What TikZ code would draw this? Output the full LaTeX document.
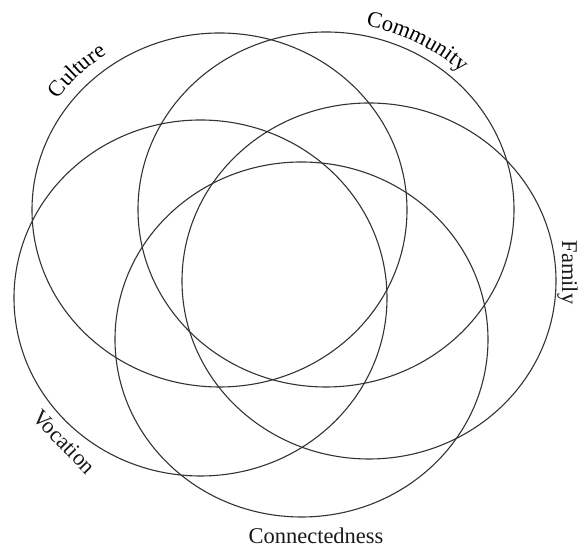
\documentclass[tikz,border=0pt]{standalone}
\usepackage{fontspec}
\setmainfont{Liberation Serif}
\usetikzlibrary{shapes.geometric,decorations.text,calc}
\newcommand\lblfont{\fontsize{22.5}{27}\selectfont}
\begin{document}
\begin{tikzpicture}[x=1pt,y=1pt,
  ring/.style={ellipse, draw=black!80, line width=1.1pt, inner sep=0pt},
  lbl/.style={font=\lblfont, text=black!90, inner sep=0pt, anchor=base},
  lblarc/.style={decorate, decoration={text along path, text align=center, text={|\lblfont|#1}}}]
\useasboundingbox (0,0) rectangle (582,548);
\node[ring, minimum width=375pt, minimum height=354pt] (culture) at (219.5,338) {};
\node[ring, minimum width=376pt, minimum height=355pt] (community) at (326,338.5) {};
\node[ring, minimum width=374pt, minimum height=356pt] (family) at (369,267) {};
\node[ring, minimum width=373pt, minimum height=355pt] (connect) at (301.5,208.5) {};
\node[ring, minimum width=373pt, minimum height=356pt] (vocation) at (200.5,250) {};
\path[lblarc={Culture}] ($(culture.center)+(158:199.5 and 189)$) arc[start angle=158, end angle=111, x radius=199.5, y radius=189];
\path[lblarc={Community}] ($(community.center)+(88:198 and 187.5)$) arc[start angle=88, end angle=37, x radius=198, y radius=187.5];
\node[lbl, rotate=-90] (familylbl) at (562,275.5) {Family};
\node[lbl, rotate=-46] (vocationlbl) at (59,101) {Vocation};
\node[lbl] (connectlbl) at (316,4) {Connectedness};
\end{tikzpicture}
\end{document}
